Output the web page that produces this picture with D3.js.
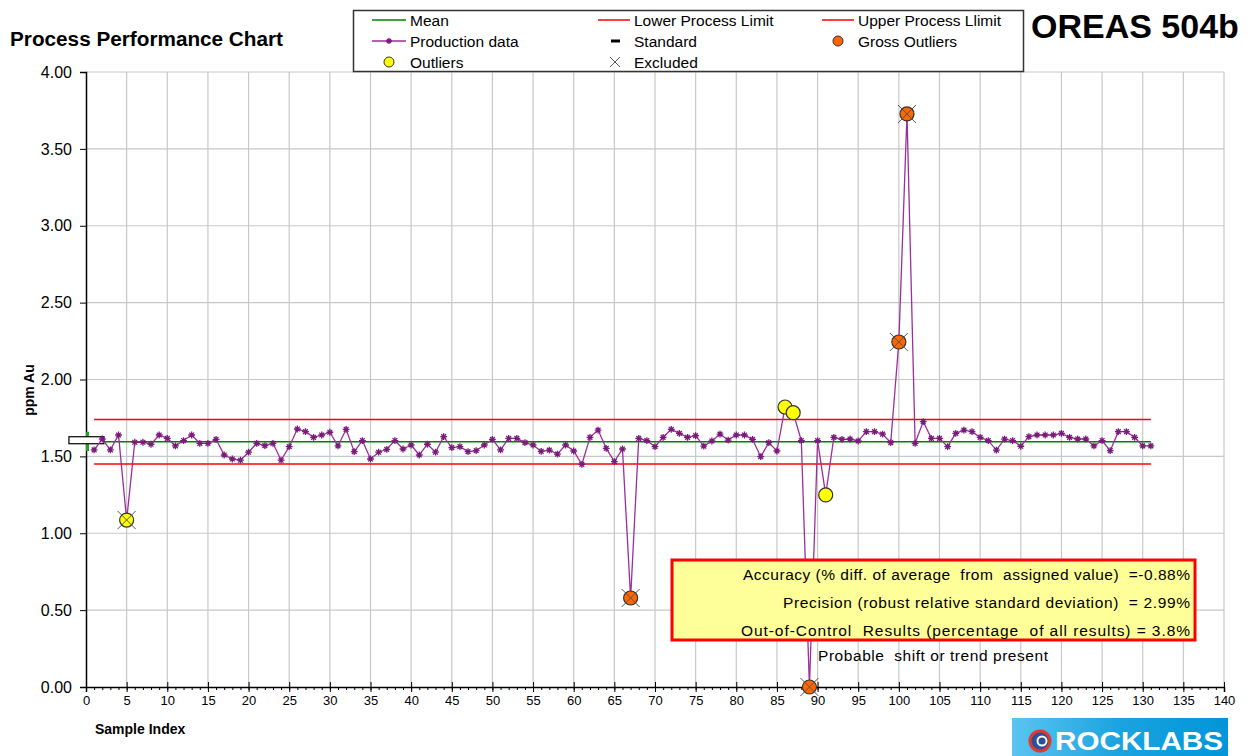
<!DOCTYPE html>
<html>
<head>
<meta charset="utf-8">
<script src="https://cdn.jsdelivr.net/npm/d3@7"></script>
<style>
  body { margin: 0; background: #fff; }
  svg text { font-family: "Liberation Sans", Arial, sans-serif; }
</style>
</head>
<body>
<div id="chart"></div>
<script>
// production results, sample index 1..131 (ppm Au)
var sampleValues = [
  1.542, 1.613, 1.542, 1.639, 1.086, 1.592, 1.592, 1.579, 1.639, 1.617,
  1.568, 1.603, 1.639, 1.585, 1.585, 1.611, 1.509, 1.483, 1.475, 1.527,
  1.585, 1.570, 1.585, 1.475, 1.563, 1.678, 1.661, 1.624, 1.639, 1.657,
  1.568, 1.676, 1.531, 1.603, 1.483, 1.527, 1.546, 1.603, 1.548, 1.574,
  1.509, 1.579, 1.527, 1.628, 1.557, 1.563, 1.531, 1.537, 1.574, 1.611,
  1.542, 1.617, 1.617, 1.589, 1.574, 1.533, 1.541, 1.515, 1.574, 1.535,
  1.448, 1.624, 1.671, 1.552, 1.466, 1.548, 0.579, 1.617, 1.602, 1.563,
  1.624, 1.676, 1.650, 1.624, 1.635, 1.567, 1.600, 1.645, 1.606, 1.639,
  1.639, 1.611, 1.498, 1.589, 1.535, 1.821, 1.784, 1.602, 0.000, 1.602,
  1.249, 1.624, 1.611, 1.613, 1.600, 1.661, 1.661, 1.645, 1.589, 2.244,
  3.727, 1.585, 1.726, 1.617, 1.617, 1.563, 1.650, 1.671, 1.661, 1.624,
  1.602, 1.541, 1.612, 1.603, 1.566, 1.628, 1.639, 1.639, 1.639, 1.650,
  1.624, 1.613, 1.613, 1.568, 1.603, 1.537, 1.661, 1.661, 1.624, 1.568,
  1.568
];
var outlierIdx = [5, 86, 87, 91];
var grossOutlierIdx = [67, 89, 100, 101];
var excludedIdx = [5, 67, 89, 100, 101];

var meanValue = 1.595;
var lowerLimit = 1.45;
var upperLimit = 1.74;
var limitRange = [1, 131];

var xTicks = d3.range(0, 141, 5);
var yTicks = [0, 0.5, 1, 1.5, 2, 2.5, 3, 3.5, 4];

var statLines = [
  "Accuracy (% diff. of average  from  assigned value)  =-0.88%",
  "Precision (robust relative standard deviation)  = 2.99%",
  "Out-of-Control  Results (percentage  of all results) = 3.8%"
];

function drawChart() {
    var width = 1253, height = 756;
    var plotLeft = 86, plotRight = 1224, plotTop = 72, plotBottom = 687;
    // widths the stats lines take up in the original box
    var statWidths = [447, 407, 449];

    var svg = d3.select("#chart").append("svg")
        .attr("width", width)
        .attr("height", height);

    var x = d3.scaleLinear().domain([0, 140]).range([plotLeft, plotRight]);
    var y = d3.scaleLinear().domain([0, 4]).range([plotBottom, plotTop]);

    var data = sampleValues.map(function(v, i) { return {i: i + 1, v: v}; });
    function byIdx(list) { return data.filter(function(d) { return list.indexOf(d.i) >= 0; }); }

    // grid
    svg.append("g").selectAll("line").data(xTicks.slice(1)).enter().append("line")
        .attr("x1", function(d) { return x(d); }).attr("x2", function(d) { return x(d); })
        .attr("y1", plotTop).attr("y2", plotBottom)
        .attr("stroke", "#c8c8c8").attr("stroke-width", 1.2);
    svg.append("g").selectAll("line").data(yTicks.slice(1)).enter().append("line")
        .attr("x1", plotLeft).attr("x2", plotRight)
        .attr("y1", function(d) { return y(d); }).attr("y2", function(d) { return y(d); })
        .attr("stroke", "#c8c8c8").attr("stroke-width", 1.2);

    // axes
    var yAxis = d3.axisLeft(y).tickValues(yTicks).tickFormat(d3.format(".2f")).tickSize(6).tickPadding(8);
    var gy = svg.append("g").attr("transform", "translate(" + plotLeft + ",0)").call(yAxis);
    gy.selectAll("text").style("font-size", "16px").attr("fill", "#000");
    gy.select(".domain").attr("stroke", "#000").attr("stroke-width", 1.5);

    var xMinor = d3.axisBottom(x).tickValues(d3.range(0, 141, 1)).tickSize(3).tickFormat("");
    svg.append("g").attr("transform", "translate(0," + plotBottom + ")").call(xMinor)
        .select(".domain").remove();
    var xAxis = d3.axisBottom(x).tickValues(xTicks).tickSize(5).tickPadding(4);
    var gx = svg.append("g").attr("transform", "translate(0," + plotBottom + ")").call(xAxis);
    gx.selectAll(".tick line").attr("y1", -5);
    gx.selectAll("text").style("font-size", "13px").attr("fill", "#000");
    gx.select(".domain").attr("stroke", "#000").attr("stroke-width", 1.5);

    // limit and mean lines
    function hLine(v, color) {
        svg.append("line")
            .attr("x1", x(limitRange[0])).attr("x2", x(limitRange[1]))
            .attr("y1", y(v)).attr("y2", y(v))
            .attr("stroke", color).attr("stroke-width", 1.5);
    }
    hLine(upperLimit, "#ff0000");
    hLine(lowerLimit, "#ff0000");
    svg.append("line")
        .attr("x1", x(0)).attr("x2", x(limitRange[1]))
        .attr("y1", y(meanValue)).attr("y2", y(meanValue))
        .attr("stroke", "#008000").attr("stroke-width", 1.5);

    // standard marker
    svg.append("line")
        .attr("x1", x(0) + 1.5).attr("x2", x(0) + 1.5)
        .attr("y1", y(1.535)).attr("y2", y(1.66))
        .attr("stroke", "#2e9a2e").attr("stroke-width", 3);
    svg.append("rect")
        .attr("x", x(-2.1)).attr("y", y(1.605) - 3.5)
        .attr("width", x(2.2) - x(-2.1)).attr("height", 7)
        .attr("fill", "#fff").attr("stroke", "#000").attr("stroke-width", 1.2);

    // production line
    var line = d3.line().x(function(d) { return x(d.i); }).y(function(d) { return y(d.v); });
    svg.append("path").datum(data)
        .attr("d", line)
        .attr("fill", "none")
        .attr("stroke", "#9b2f9b")
        .attr("stroke-width", 1.3);

    svg.append("g").selectAll("path").data(data).enter().append("path")
        .attr("transform", function(d) { return "translate(" + x(d.i) + "," + y(d.v) + ")"; })
        .attr("d", starPath(3.4))
        .attr("stroke", "#7a1a7a")
        .attr("stroke-width", 1.3);

    // outliers
    svg.append("g").selectAll("circle").data(byIdx(outlierIdx)).enter().append("circle")
        .attr("cx", function(d) { return x(d.i); })
        .attr("cy", function(d) { return y(d.v); })
        .attr("r", 7)
        .attr("fill", "#ffff00")
        .attr("stroke", "#333").attr("stroke-width", 1.2);
    svg.append("g").selectAll("circle").data(byIdx(grossOutlierIdx)).enter().append("circle")
        .attr("cx", function(d) { return x(d.i); })
        .attr("cy", function(d) { return y(d.v); })
        .attr("r", 7)
        .attr("fill", "#ff6600")
        .attr("stroke", "#333").attr("stroke-width", 1.2);
    svg.append("g").selectAll("path").data(byIdx(excludedIdx)).enter().append("path")
        .attr("transform", function(d) { return "translate(" + x(d.i) + "," + y(d.v) + ")"; })
        .attr("d", "M-9,-9L9,9M-9,9L9,-9")
        .attr("stroke", "#555")
        .attr("stroke-width", 1);

    // titles
    svg.append("text").text("Process Performance Chart")
        .attr("x", 10).attr("y", 46)
        .attr("textLength", 273).attr("lengthAdjust", "spacingAndGlyphs")
        .style("font-size", "20px").style("font-weight", "bold");
    svg.append("text").text("OREAS 504b")
        .attr("x", 1031).attr("y", 38)
        .style("font-size", "34px").style("font-weight", "bold");
    svg.append("text").text("ppm Au")
        .attr("transform", "translate(34,390) rotate(-90)")
        .attr("text-anchor", "middle")
        .style("font-size", "14px").style("font-weight", "bold");
    svg.append("text").text("Sample Index")
        .attr("x", 95).attr("y", 734)
        .style("font-size", "14px").style("font-weight", "bold");

    // legend
    var lg = svg.append("g");
    lg.append("rect")
        .attr("x", 353.5).attr("y", 10.5).attr("width", 670).attr("height", 61)
        .attr("fill", "#fff").attr("stroke", "#333").attr("stroke-width", 1.5);
    var rows = [20, 41, 62];
    function legText(tx, ty, s) {
        lg.append("text").text(s).attr("x", tx).attr("y", ty + 5.5).style("font-size", "15.5px");
    }
    function legLine(x1, x2, ty, color) {
        lg.append("line").attr("x1", x1).attr("x2", x2).attr("y1", ty).attr("y2", ty)
            .attr("stroke", color).attr("stroke-width", 1.5);
    }
    legLine(372, 406, rows[0], "#008000"); legText(410, rows[0], "Mean");
    legLine(598, 630, rows[0], "#ff0000"); legText(634, rows[0], "Lower Process Limit");
    legLine(822, 854, rows[0], "#ff0000"); legText(858, rows[0], "Upper Process Llimit");
    legLine(372, 406, rows[1], "#9b2f9b");
    lg.append("path").attr("transform", "translate(389," + rows[1] + ")").attr("d", starPath(3))
        .attr("stroke", "#7a1a7a").attr("stroke-width", 1.3);
    legText(410, rows[1], "Production data");
    lg.append("line").attr("x1", 611).attr("x2", 620).attr("y1", rows[1]).attr("y2", rows[1])
        .attr("stroke", "#000").attr("stroke-width", 3);
    legText(634, rows[1], "Standard");
    lg.append("circle").attr("cx", 838).attr("cy", rows[1]).attr("r", 5)
        .attr("fill", "#ff6600").attr("stroke", "#333");
    legText(858, rows[1], "Gross Outliers");
    lg.append("circle").attr("cx", 389).attr("cy", rows[2]).attr("r", 5)
        .attr("fill", "#ffff00").attr("stroke", "#333");
    legText(410, rows[2], "Outliers");
    lg.append("path").attr("transform", "translate(615," + rows[2] + ")").attr("d", "M-5,-5L5,5M-5,5L5,-5")
        .attr("stroke", "#555").attr("stroke-width", 1);
    legText(634, rows[2], "Excluded");

    // stats box
    svg.append("rect")
        .attr("x", 672).attr("y", 560).attr("width", 523).attr("height", 80)
        .attr("fill", "#ffff99").attr("stroke", "#ff0000").attr("stroke-width", 3);
    svg.append("g").selectAll("text").data(statLines).enter().append("text")
        .text(function(d) { return d; })
        .attr("x", 1190)
        .attr("y", function(d, i) { return 580 + i * 28; })
        .attr("text-anchor", "end")
        .attr("textLength", function(d, i) { return statWidths[i]; })
        .attr("lengthAdjust", "spacing")
        .style("white-space", "pre")
        .style("font-size", "15.5px");
    svg.append("text").text("Probable  shift or trend present")
        .attr("x", 818).attr("y", 661)
        .attr("textLength", 230).attr("lengthAdjust", "spacing")
        .style("white-space", "pre")
        .style("font-size", "15.5px");

    // logo
    var defs = svg.append("defs");
    var grad = defs.append("linearGradient").attr("id", "logoGrad")
        .attr("x1", "0").attr("x2", "1").attr("y1", "0").attr("y2", "0");
    grad.append("stop").attr("offset", "0").attr("stop-color", "#5cc4f0");
    grad.append("stop").attr("offset", "0.5").attr("stop-color", "#1aa3e0");
    grad.append("stop").attr("offset", "1").attr("stop-color", "#0095d9");
    svg.append("rect").attr("x", 1012).attr("y", 718).attr("width", 216).attr("height", 38)
        .attr("fill", "url(#logoGrad)");
    svg.append("circle").attr("cx", 1040).attr("cy", 741).attr("r", 10)
        .attr("fill", "#2a4f9c").attr("stroke", "#e03a2a").attr("stroke-width", 3);
    svg.append("circle").attr("cx", 1042).attr("cy", 741).attr("r", 4.5)
        .attr("fill", "none").attr("stroke", "#fff").attr("stroke-width", 2);
    svg.append("text").text("ROCKLABS")
        .attr("x", 1055).attr("y", 750)
        .attr("fill", "#fff")
        .attr("textLength", 168).attr("lengthAdjust", "spacingAndGlyphs")
        .style("font-size", "25px").style("font-weight", "bold");
}

function starPath(s) {
    var a = s * 0.7;
    return "M" + (-s) + ",0L" + s + ",0M0," + (-s) + "L0," + s +
        "M" + (-a) + "," + (-a) + "L" + a + "," + a + "M" + (-a) + "," + a + "L" + a + "," + (-a);
}

drawChart();
</script>
</body>
</html>
